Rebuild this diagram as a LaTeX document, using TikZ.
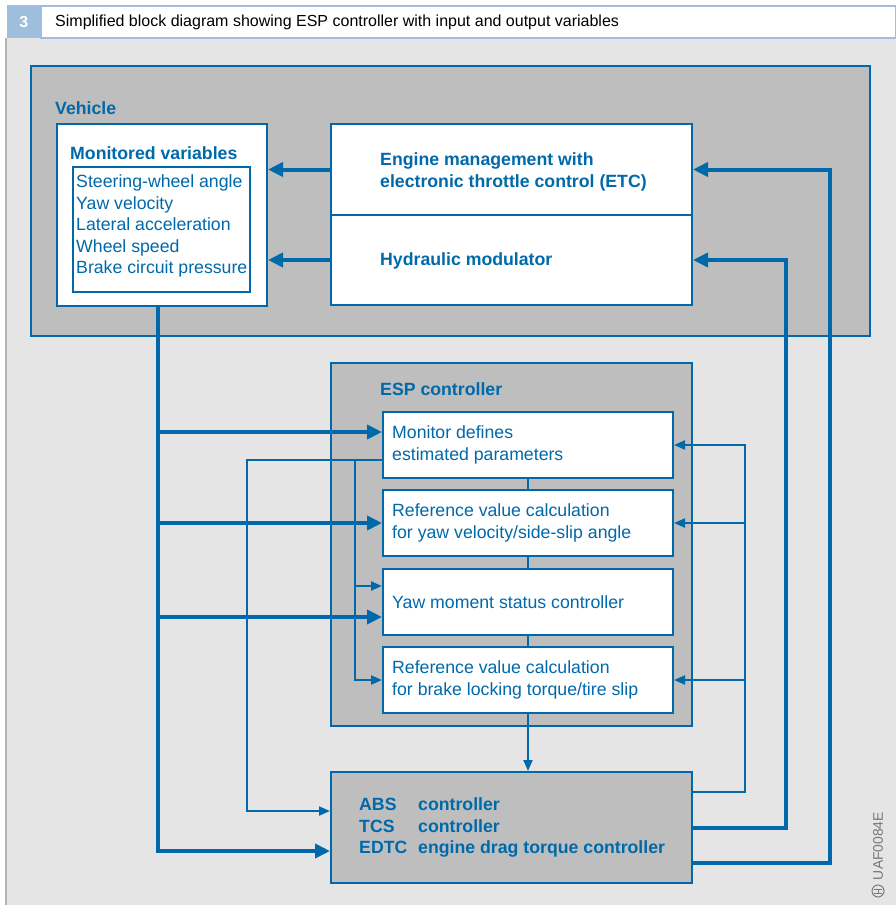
\documentclass[tikz,border=0pt]{standalone}
\usepackage{fontspec}
\setmainfont{Liberation Sans}
\usepackage{tikz}
\usetikzlibrary{arrows.meta}

\definecolor{espblue}{RGB}{0,105,170}
\definecolor{boxgrey}{RGB}{190,190,190}
\definecolor{bggrey}{RGB}{229,229,229}
\definecolor{hdrblue}{RGB}{157,190,220}
\definecolor{framegrey}{RGB}{180,180,180}
\definecolor{codegrey}{RGB}{120,120,120}

\tikzset{
  blk/.style={draw=espblue, line width=2pt, anchor=north west, inner sep=0pt},
  whitebox/.style={blk, fill=white},
  greybox/.style={blk, fill=boxgrey},
  txt/.style={text=espblue, anchor=west, align=left, inner sep=0pt,
    font=\fontsize{17.7}{21.5}\selectfont},
  btxt/.style={txt, font=\fontsize{17.7}{21.5}\selectfont\bfseries},
  thickarr/.style={draw=espblue, line width=4pt, -{Triangle[length=15pt,width=14pt]}},
  thinarr/.style={draw=espblue, line width=2pt, -{Triangle[length=11pt,width=9pt]}},
  thinline/.style={draw=espblue, line width=2pt},
}

\begin{document}
\begin{tikzpicture}[x=1pt,y=-1pt]
\useasboundingbox (0,0) rectangle (896,905);
\fill[white] (0,0) rectangle (896,905);
\fill[bggrey] (7,38) rectangle (896,905);
\draw[framegrey, line width=2pt] (6,38) -- (6,905);

% title bar
\node[anchor=north west, fill=hdrblue, minimum width=33pt, minimum height=33pt, inner sep=0pt,
  text=white, font=\fontsize{16}{19}\selectfont\bfseries] (fignum) at (7,5) {3};
\node[anchor=north west, draw=hdrblue, fill=white, line width=2pt, minimum width=855pt,
  minimum height=32pt, inner sep=0pt] (title) at (40,5) {};
\node[anchor=west, inner sep=0pt, font=\fontsize{16}{19}\selectfont] (titletxt)
  at ([xshift=15pt]title.west) {Simplified block diagram showing ESP controller with input and output variables};

% vehicle
\node[greybox, minimum width=839pt, minimum height=270pt] (vehicle) at (30,65) {};
\node[btxt] (vehlbl) at (55,108) {Vehicle};
\node[whitebox, minimum width=210pt, minimum height=182pt] (monbox) at (56,123) {};
\node[btxt] (montitle) at (70,153) {Monitored variables};
\node[whitebox, minimum width=177pt, minimum height=125pt] (varlist) at (72,166) {};
\node[txt] (vartxt) at (76,226)
  {Steering-wheel angle\\Yaw velocity\\Lateral acceleration\\Wheel speed\\Brake circuit pressure};
\node[whitebox, minimum width=361pt, minimum height=91pt] (engine) at (330,123) {};
\node[btxt] (enginetxt) at ([shift={(50pt,-2.5pt)}]engine.west) {Engine management with\\electronic throttle control (ETC)};
\node[whitebox, minimum width=361pt, minimum height=90pt] (hyd) at (330,214) {};
\node[btxt] (hydtxt) at ([shift={(50pt,-1pt)}]hyd.west) {Hydraulic modulator};

% ESP controller
\node[greybox, minimum width=361pt, minimum height=363pt] (esp) at (330,362) {};
\node[btxt] (esplbl) at (380,389) {ESP controller};
\node[whitebox, minimum width=290pt, minimum height=66pt] (mon) at (382,411) {};
\node[whitebox, minimum width=290pt, minimum height=66pt] (ref) at (382,489) {};
\node[whitebox, minimum width=290pt, minimum height=66pt] (yaw) at (382,568) {};
\node[whitebox, minimum width=290pt, minimum height=66pt] (brk) at (382,646) {};
\node[txt] (montxt) at ([xshift=10pt]mon.west) {Monitor defines\\estimated parameters};
\node[txt] (reftxt) at ([xshift=10pt]ref.west) {Reference value calculation\\for yaw velocity/side-slip angle};
\node[txt] (yawtxt) at ([xshift=10pt]yaw.west) {Yaw moment status controller};
\node[txt] (brktxt) at ([xshift=10pt]brk.west) {Reference value calculation\\for brake locking torque/tire slip};

% subordinate controllers
\node[greybox, minimum width=361pt, minimum height=111pt] (bot) at (330,771) {};
\node[btxt] (bottxt) at ([xshift=29pt]bot.west)
  {\makebox[59pt][l]{ABS}controller\\\makebox[59pt][l]{TCS}controller\\\makebox[59pt][l]{EDTC}engine drag torque controller};

\node[rotate=90, text=codegrey, inner sep=0pt, font=\fontsize{13.9}{16}\selectfont] (code) at (878,846) {UAF0084E};
\node[circle, draw=codegrey, line width=1pt, minimum size=12pt, inner sep=0pt] (logo) at (878,891) {};
\draw[codegrey, line width=0.8pt] ([shift={(-4pt,2pt)}]logo.center) -- ([shift={(4pt,2pt)}]logo.center)
  ([shift={(-4pt,-2pt)}]logo.center) -- ([shift={(4pt,-2pt)}]logo.center)
  ([yshift=2pt]logo.center) -- ([yshift=-2pt]logo.center);

% lanes
\coordinate (laneE) at (830,500);
\coordinate (laneH) at (786,500);
\coordinate (laneF) at (745,500);
\coordinate (laneM) at (247,500);
\coordinate (laneS) at (355,500);
\coordinate (bus) at ([xshift=-4pt]monbox.south);

% actuators feed back into the vehicle
\draw[thickarr] (engine.west) -- (engine.west -| monbox.east);
\draw[thickarr] (hyd.west) -- (hyd.west -| monbox.east);

% sensor signals
\coordinate (inA) at ([yshift=13pt]mon.west);
\coordinate (inY) at ([yshift=-15pt]yaw.west);
\coordinate (inB) at ([yshift=-23.5pt]bot.west);
\draw[thickarr] (bus) |- (inB);
\draw[thickarr] (inA -| bus) -- (inA);
\draw[thickarr] (ref.west -| bus) -- (ref.west);
\draw[thickarr] (inY -| bus) -- (inY);

% estimated parameters
\coordinate (outM) at ([yshift=-15pt]mon.west);
\coordinate (inT) at ([yshift=16.5pt]bot.west);
\coordinate (inS) at ([yshift=16pt]yaw.west);
\draw[thinarr] (outM) -| (laneM |- inT) -- (inT);
\draw[thinarr] (outM -| laneS) |- (brk.west);
\draw[thinarr] (inS -| laneS) -- (inS);

\draw[thinline] (mon.south) -- (ref.north);
\draw[thinline] (ref.south) -- (yaw.north);
\draw[thinline] (yaw.south) -- (brk.north);
\draw[thinarr] (brk.south) -- (brk.south |- bot.north);

% controller outputs
\draw[thickarr] ([yshift=-35.5pt]bot.east) -| (laneE) |- (engine.east);
\draw[thickarr] (bot.east) -| (laneH) |- (hyd.east);
\draw[thinarr] ([yshift=35.5pt]bot.east) -| (laneF) |- (mon.east);
\draw[thinarr] (ref.east -| laneF) -- (ref.east);
\draw[thinarr] (brk.east -| laneF) -- (brk.east);
\end{tikzpicture}
\end{document}
